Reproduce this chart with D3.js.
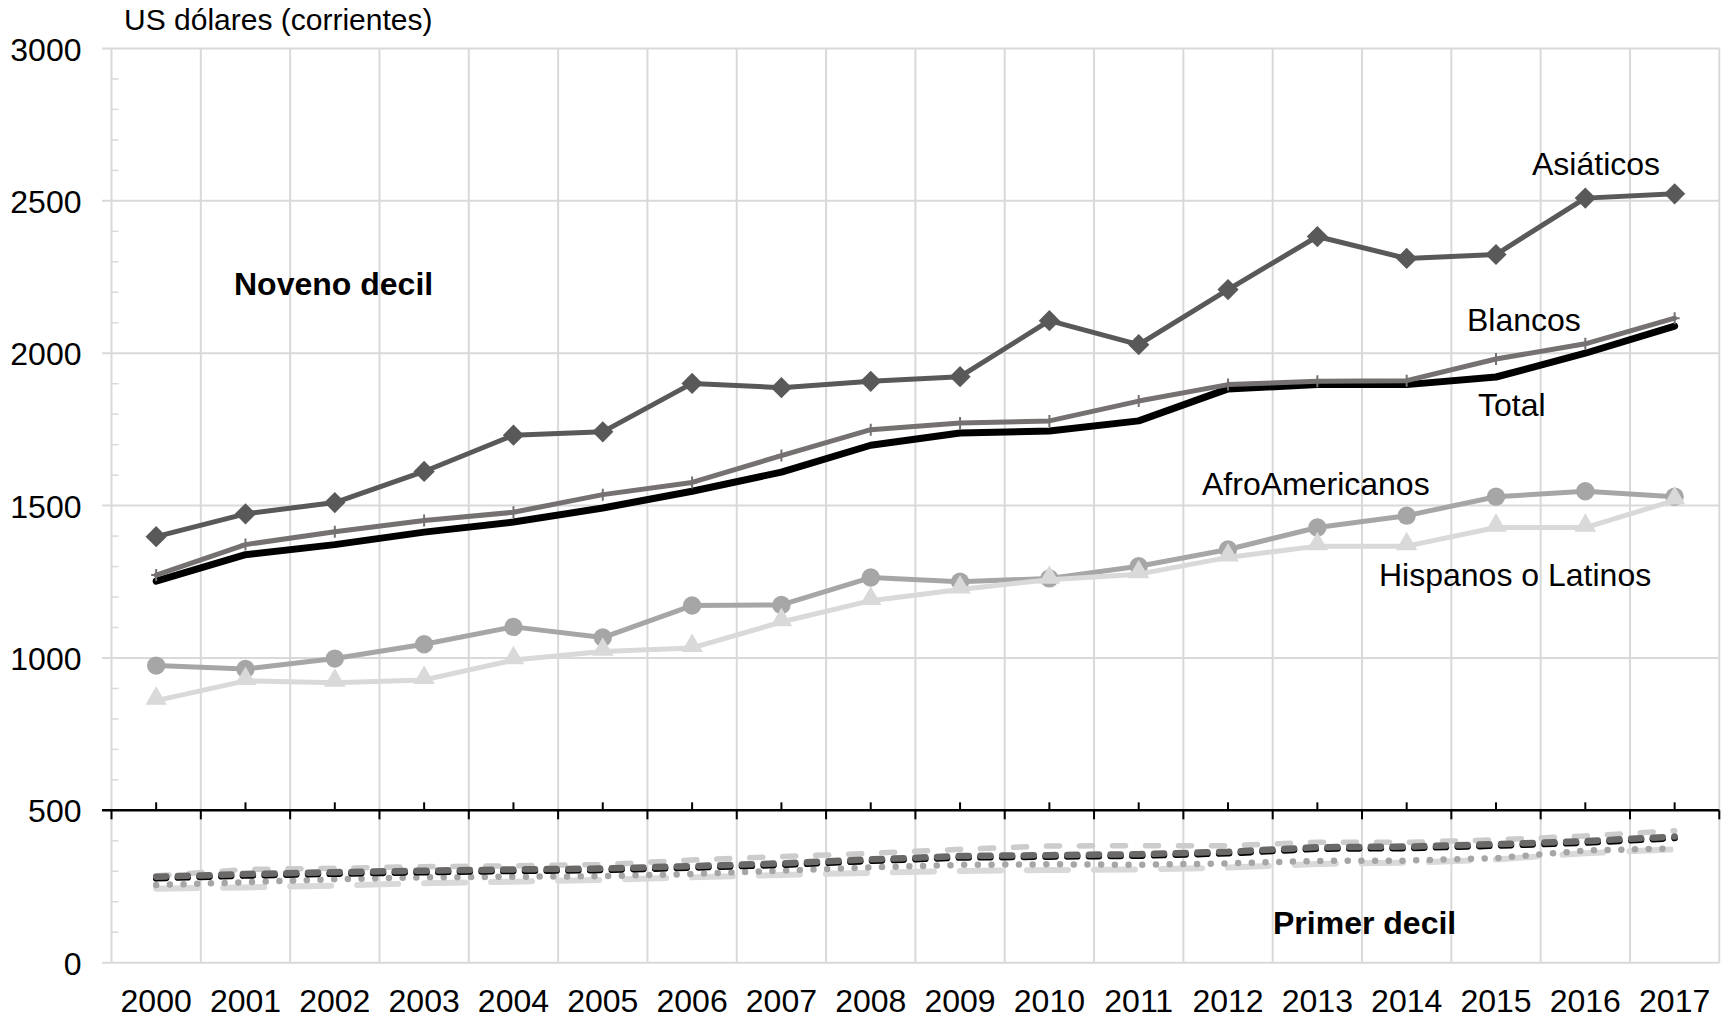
<!DOCTYPE html>
<html>
<head>
<meta charset="utf-8">
<script src="https://cdn.jsdelivr.net/npm/d3@7"></script>
<style>
  body { margin: 0; background: #fff; }
  text { font-family: "Liberation Sans", Arial, sans-serif; fill: #000; }
</style>
</head>
<body>
<script>
// Categories and tick labels
var years = ["2000", "2001", "2002", "2003", "2004", "2005", "2006", "2007",
             "2008", "2009", "2010", "2011", "2012", "2013", "2014", "2015",
             "2016", "2017"];
var yTicks = [0, 500, 1000, 1500, 2000, 2500, 3000];

// Noveno decil (US dolares corrientes)
var asiaticos9 = [1398, 1473, 1510, 1612, 1731, 1742, 1901, 1887, 1908, 1923,
                  2107, 2028, 2209, 2383, 2311, 2324, 2509, 2523];
var blancos9 = [1272, 1372, 1414, 1451, 1478, 1536, 1576, 1664, 1749, 1771,
                1778, 1843, 1897, 1908, 1910, 1981, 2031, 2115];
var total9 = [1252, 1339, 1372, 1413, 1446, 1492, 1547, 1610, 1698, 1738,
              1745, 1778, 1883, 1897, 1897, 1922, 2000, 2089];
var afro9 = [975, 964, 998, 1045, 1102, 1067, 1172, 1174, 1264, 1250,
             1261, 1301, 1356, 1428, 1467, 1529, 1547, 1529];
var hispanos9 = [860, 925, 919, 928, 993, 1021, 1033, 1118, 1188, 1225,
                 1257, 1275, 1330, 1367, 1367, 1428, 1428, 1517];

// Primer decil
var asiaticos1 = [285, 306, 310, 315, 318, 322, 337, 348, 359, 372,
                  383, 384, 384, 395, 395, 403, 416, 433];
var blancos1 = [282, 291, 297, 302, 306, 309, 317, 326, 339, 350,
                353, 356, 364, 379, 381, 389, 399, 414];
var total1 = [277, 286, 292, 297, 301, 304, 312, 321, 334, 345,
              348, 351, 359, 374, 376, 384, 394, 409];
var afro1 = [255, 264, 274, 280, 282, 284, 291, 302, 313, 321,
             323, 321, 326, 334, 335, 343, 368, 375];
var hispanos1 = [243, 247, 253, 261, 266, 272, 280, 288, 295, 301,
                 304, 306, 312, 324, 328, 339, 359, 372];

// margins put the plot area where the original has it
var margin = {top: 48.5, right: 8.7, bottom: 56.3, left: 111.5},
    width = 1728 - margin.left - margin.right,
    height = 1019 - margin.top - margin.bottom;

var svg = d3.select("body").append("svg")
    .attr("width", 1728)
    .attr("height", 1019)
    .append("g")
    .attr("transform", "translate(" + margin.left + "," + margin.top + ")");

var xScale = d3.scaleBand().domain(years).range([0, width]).padding(0);
var yScale = d3.scaleLinear().domain([0, 3000]).range([height, 0]);
var bw = xScale.bandwidth();
var grid = "#d9d9d9";

// horizontal gridlines (500 is the black axis, drawn later)
svg.selectAll(".hgrid")
    .data(yTicks.filter(function(d) { return d !== 500; }))
    .enter().append("line")
    .attr("x1", -9.5).attr("x2", width)
    .attr("y1", function(d) { return yScale(d); })
    .attr("y2", function(d) { return yScale(d); })
    .attr("stroke", grid).attr("stroke-width", 2);

// vertical gridlines on the category borders
svg.selectAll(".vgrid")
    .data(years.map(function(d) { return xScale(d); }).concat([width]))
    .enter().append("line")
    .attr("x1", function(d) { return d; })
    .attr("x2", function(d) { return d; })
    .attr("y1", 0).attr("y2", height)
    .attr("stroke", grid).attr("stroke-width", 2);

// small ticks every 100 on the left side
svg.selectAll(".minor")
    .data(d3.range(100, 3000, 100).filter(function(d) { return d % 500; }))
    .enter().append("line")
    .attr("x1", 0).attr("x2", 7)
    .attr("y1", function(d) { return yScale(d); })
    .attr("y2", function(d) { return yScale(d); })
    .attr("stroke", grid).attr("stroke-width", 1.5);

// y labels, no thousands separator
svg.append("g")
    .call(d3.axisLeft(yScale).tickValues(yTicks).tickSize(0).tickPadding(30)
          .tickFormat(d3.format("d")))
    .call(function(g) { g.select(".domain").remove(); })
    .selectAll("text")
    .attr("font-size", "32px")
    .attr("dy", "0.36em");

// x labels
svg.append("g")
    .attr("transform", "translate(0," + height + ")")
    .call(d3.axisBottom(xScale).tickSize(0))
    .call(function(g) { g.select(".domain").remove(); })
    .selectAll("text")
    .attr("y", 49.5).attr("dy", 0)
    .attr("font-size", "32px");

// black axis at 500 separating both panels
var y500 = yScale(500);
var midAxis = svg.append("g")
    .attr("transform", "translate(0," + y500 + ")")
    .call(d3.axisBottom(xScale).tickSizeInner(-8).tickSizeOuter(0)
          .tickFormat(""));
midAxis.select(".domain").remove();
midAxis.selectAll("line").attr("stroke", "#000").attr("stroke-width", 2);
midAxis.selectAll(".border")
    .data(years.map(function(d) { return xScale(d); }).concat([width]))
    .enter().append("line")
    .attr("x1", function(d) { return d; })
    .attr("x2", function(d) { return d; })
    .attr("y1", 0).attr("y2", 9)
    .attr("stroke", "#000").attr("stroke-width", 2);
midAxis.append("line")
    .attr("x1", -9.5).attr("x2", width)
    .attr("stroke", "#000").attr("stroke-width", 2.5);

var line = d3.line()
    .x(function(d, i) { return xScale(years[i]) + bw / 2; })
    .y(function(d) { return yScale(d); });

function drawLine(values, color, w, dash) {
    svg.append("path")
        .datum(values)
        .attr("d", line)
        .attr("fill", "none")
        .attr("stroke", color)
        .attr("stroke-width", w)
        .attr("stroke-linejoin", "round")
        .attr("stroke-linecap", "round")
        .attr("stroke-dasharray", dash || null);
}

function drawMarkers(values, pathStr, color, rot, dy, strokeOnly) {
    svg.selectAll(null)
        .data(values)
        .enter().append("path")
        .attr("d", pathStr)
        .attr("transform", function(d, i) {
            return "translate(" + (xScale(years[i]) + bw / 2) + "," +
                (yScale(d) + dy) + ") rotate(" + rot + ")";
        })
        .attr("fill", strokeOnly ? "none" : color)
        .attr("stroke", strokeOnly ? color : "none")
        .attr("stroke-width", strokeOnly ? 2 : 0);
}

// Primer decil, dashed and dotted lines
drawLine(hispanos1, "#d9d9d9", 6, "41,26");
drawLine(afro1, "#a6a6a6", 6.5, "0,13.7");
drawLine(asiaticos1, "#cccccc", 5.5, "13,20");
drawLine(total1, "#000000", 6.5, "10,11.7");
drawLine(blancos1, "#6b6868", 6.5, "10,11.7");

// Noveno decil
drawLine(total9, "#000000", 7);
drawLine(blancos9, "#767171", 5);
drawMarkers(blancos9, "M-5,0H5M0,-6V6", "#767171", 0, 0, true);
drawLine(asiaticos9, "#595959", 5);
drawMarkers(asiaticos9, d3.symbol(d3.symbolSquare, 225)(), "#595959", 45, 0);
drawLine(afro9, "#a6a6a6", 5);
drawMarkers(afro9, d3.symbol(d3.symbolCircle, 265)(), "#a6a6a6", 0, 0);
drawLine(hispanos9, "#d9d9d9", 5);
drawMarkers(hispanos9, d3.symbol(d3.symbolTriangle, 200)(), "#d9d9d9", 0, -2);

// text on the chart (page coordinates)
var page = d3.select("svg");
function label(txt, x, y, size, bold) {
    page.append("text")
        .attr("x", x).attr("y", y)
        .attr("font-size", size + "px")
        .attr("font-weight", bold ? "bold" : "normal")
        .text(txt);
}
label("US dólares (corrientes)", 124, 30, 30);
label("Noveno decil", 234, 295, 32, true);
label("Primer decil", 1273, 934, 32, true);
label("Asiáticos", 1532, 175, 32);
label("Blancos", 1467, 331, 32);
label("Total", 1478, 416, 32);
label("AfroAmericanos", 1202, 495, 32);
label("Hispanos o Latinos", 1379, 586, 32);
</script>
</body>
</html>
